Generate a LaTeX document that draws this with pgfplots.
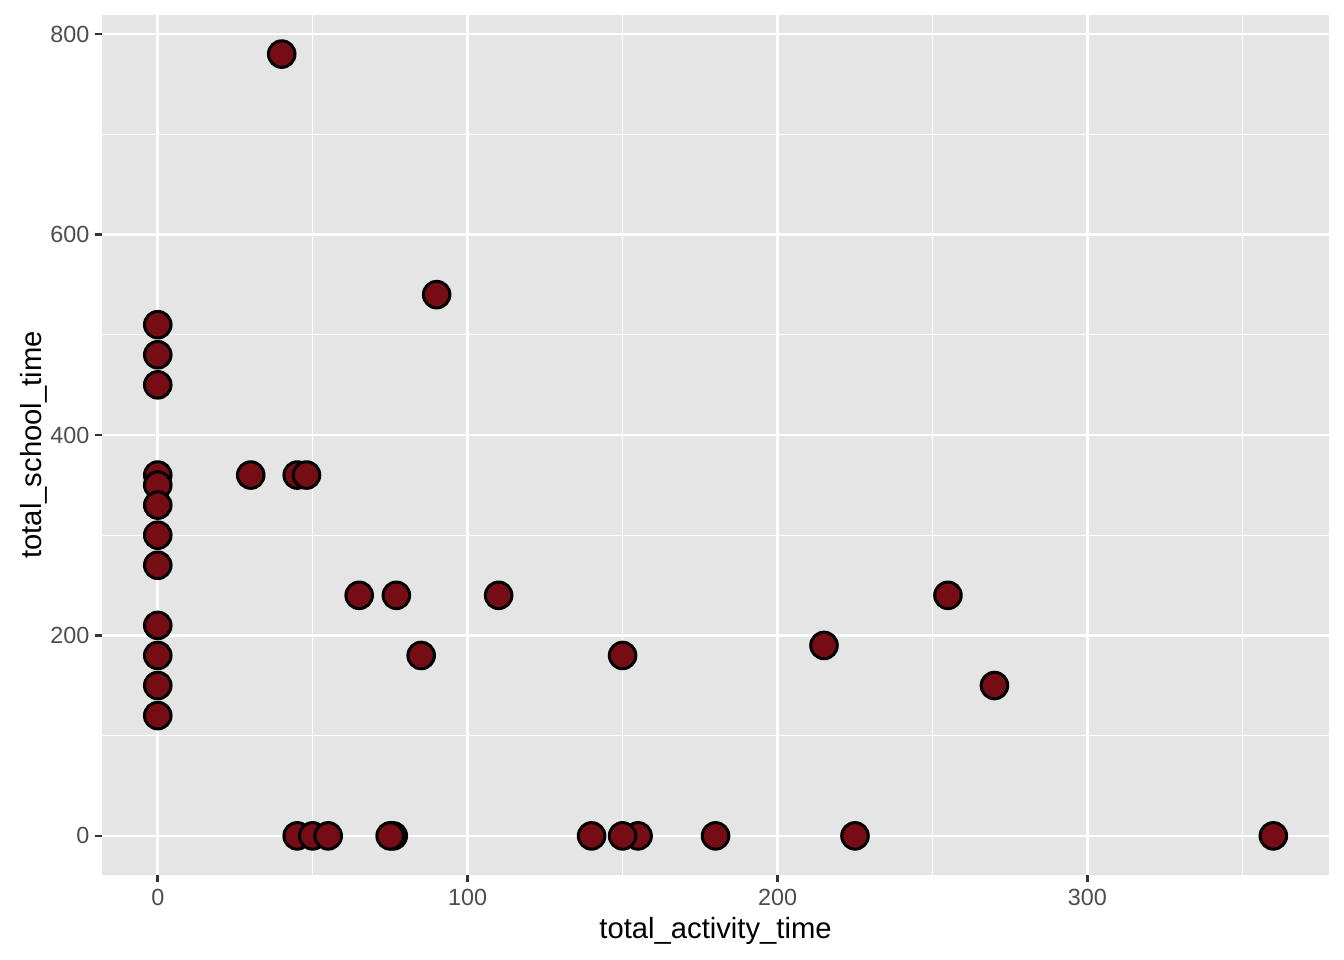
\documentclass[border=0pt]{standalone}
\usepackage{pgfplots}
\pgfplotsset{compat=1.18}
\usepackage{fontspec}
\setmainfont{Liberation Sans}
\definecolor{panelbg}{HTML}{E5E5E5}
\definecolor{ptfill}{HTML}{760D15}
\definecolor{ticklab}{HTML}{4D4D4D}
\definecolor{tickc}{HTML}{333333}
\begin{document}
\begin{tikzpicture}
\useasboundingbox (0,0) rectangle (505.9pt,361.35pt);
\begin{axis}[
  at={(38.39pt,32.0pt)}, anchor=south west,
  scale only axis, width=461.9pt, height=323.7pt,
  xmin=-18, xmax=378, ymin=-39, ymax=819,
  axis background/.style={fill=panelbg},
  axis line style={draw=none},
  xtick={0,100,200,300}, ytick={0,200,400,600,800},
  minor xtick={50,150,250,350}, minor ytick={100,300,500,700},
  grid=both,
  major grid style={white, line width=1.0pt},
  minor grid style={white, line width=0.5pt},
  tick align=outside, major tick length=2.75pt, minor tick length=0pt,
  tick style={tickc, line width=1.0pt},
  xtick pos=bottom, ytick pos=left,
  ticklabel style={font=\fontsize{8.8}{10}\selectfont, text=ticklab},
  /pgf/number format/assume math mode=true,
  xticklabel style={yshift=0.8pt},
  yticklabel style={xshift=1.5pt},
  xlabel={total\_activity\_time}, ylabel={total\_school\_time},
  label style={font=\fontsize{11}{13}\selectfont},
  xlabel style={yshift=2.7pt},
  ylabel style={yshift=-5.8pt},
  clip=false,
]
\addplot[only marks, mark=*, mark size=5.0pt, mark options={fill=ptfill, draw=black, line width=1.13pt}] coordinates {
(0,510) (0,480) (0,450) (0,360) (0,350) (0,330) (0,300) (0,270) (0,210) (0,180) (0,150) (0,120)
(30,360) (40,780) (45,360) (48,360) (65,240) (77,240) (85,180) (90,540) (110,240) (150,180)
(215,190) (255,240) (270,150)
(45,0) (50,0) (55,0) (76,0) (75,0) (140,0) (155,0) (150,0) (180,0) (225,0) (360,0)
};
\end{axis}
\end{tikzpicture}
\end{document}
